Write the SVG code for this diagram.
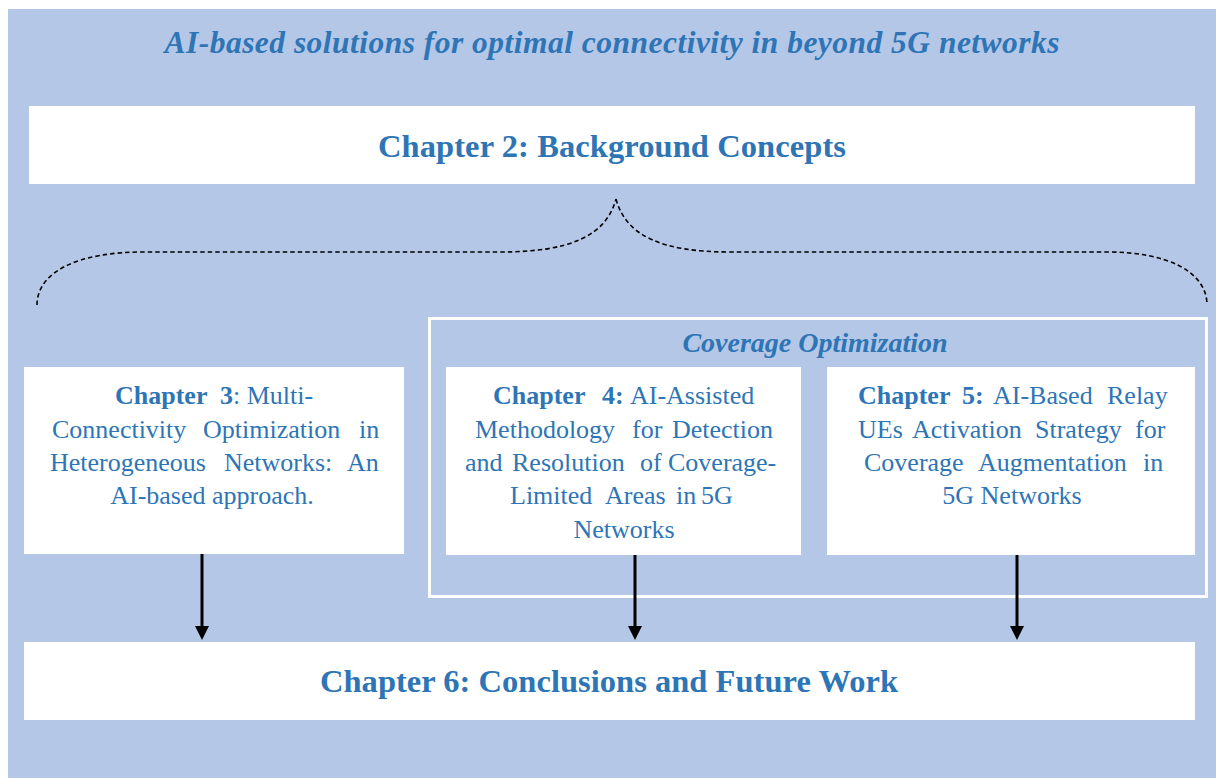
<svg xmlns="http://www.w3.org/2000/svg" width="1216" height="778" viewBox="0 0 1216 778">
  <style>
    .panel { fill: #B4C7E7; }
    .box { fill: #FFFFFF; }
    .frame { fill: none; stroke: #FFFFFF; stroke-width: 3; }
    .txt { font-family: "Liberation Serif", "Times New Roman", serif; fill: #2E75B6; }
    .head { font-size: 32.5px; font-weight: bold; text-anchor: middle; }
    .title { font-size: 31.5px; font-weight: bold; font-style: italic; text-anchor: middle; }
    .group-label { font-size: 28px; font-weight: bold; font-style: italic; text-anchor: middle; }
    .body { font-size: 26px; }
    .mid { text-anchor: middle; }
    .b { font-weight: bold; }
    .brace { fill: none; stroke: #000000; stroke-width: 1.6; stroke-dasharray: 4.5 3; }
    .arrow { stroke: #000000; stroke-width: 3; fill: none; }
    .tip { fill: #000000; }
  </style>

  <!-- page background -->
  <rect class="panel" x="8" y="9" width="1208" height="769"/>

  <!-- title -->
  <text id="title" class="txt title" x="612" y="53" textLength="895" lengthAdjust="spacing">AI-based solutions for  optimal connectivity in beyond 5G networks</text>

  <!-- chapter 2 -->
  <g id="ch2">
    <rect class="box" x="29" y="106" width="1166" height="78"/>
    <text class="txt head" x="612" y="157" textLength="468" lengthAdjust="spacing">Chapter 2: Background Concepts</text>
  </g>

  <!-- brace linking chapter 2 to the chapters below -->
  <g id="brace">
    <path class="brace" d="M37,305 C37,272 78,252 143,252 L500,252 C570,252 606,236 616,199"/>
    <path class="brace" d="M616,199 C626,236 662,252 730,252 L1107,252 C1168,252 1207,272 1207,305"/>
  </g>

  <!-- coverage optimization frame -->
  <g id="coverage">
    <rect class="frame" x="429.5" y="318.5" width="777" height="278"/>
    <text class="txt group-label" x="815" y="352">Coverage Optimization</text>
  </g>

  <!-- chapter 3 -->
  <g id="ch3">
    <rect class="box" x="24" y="367" width="380" height="187"/>
    <text class="txt body" y="404"><tspan class="b" x="115">Chapter</tspan><tspan class="b" x="220">3</tspan><tspan x="233">: Multi-</tspan></text>
    <text class="txt body" y="438"><tspan x="52">Connectivity</tspan><tspan x="203">Optimization</tspan><tspan x="359">in</tspan></text>
    <text class="txt body" y="471"><tspan x="50">Heterogeneous</tspan><tspan x="224">Networks:</tspan><tspan x="347">An</tspan></text>
    <text class="txt body mid" x="212" y="504">AI-based approach.</text>
  </g>

  <!-- chapter 4 -->
  <g id="ch4">
    <rect class="box" x="446" y="367" width="355" height="188"/>
    <text class="txt body" y="404"><tspan class="b" x="493">Chapter</tspan><tspan class="b" x="602">4:</tspan><tspan x="630">AI-Assisted</tspan></text>
    <text class="txt body" y="438"><tspan x="475">Methodology</tspan><tspan x="632">for</tspan><tspan x="672">Detection</tspan></text>
    <text class="txt body" y="471"><tspan x="465">and</tspan><tspan x="512">Resolution</tspan><tspan x="640">of</tspan><tspan x="668">Coverage-</tspan></text>
    <text class="txt body" y="504"><tspan x="510">Limited</tspan><tspan x="605">Areas</tspan><tspan x="676">in</tspan><tspan x="701">5G</tspan></text>
    <text class="txt body mid" x="624" y="538">Networks</text>
  </g>

  <!-- chapter 5 -->
  <g id="ch5">
    <rect class="box" x="827" y="367" width="368" height="188"/>
    <text class="txt body" y="404"><tspan class="b" x="858">Chapter</tspan><tspan class="b" x="962">5:</tspan><tspan x="993">AI-Based</tspan><tspan x="1107">Relay</tspan></text>
    <text class="txt body" y="438"><tspan x="858">UEs</tspan><tspan x="912">Activation</tspan><tspan x="1035">Strategy</tspan><tspan x="1135">for</tspan></text>
    <text class="txt body" y="471"><tspan x="864">Coverage</tspan><tspan x="978">Augmentation</tspan><tspan x="1143">in</tspan></text>
    <text class="txt body mid" x="1012" y="504">5G Networks</text>
  </g>

  <!-- chapter 6 -->
  <g id="ch6">
    <rect class="box" x="24" y="642" width="1171" height="78"/>
    <text class="txt head" x="609" y="692" textLength="578" lengthAdjust="spacing">Chapter 6: Conclusions and Future Work</text>
  </g>

  <!-- connectors -->
  <g id="connectors">
    <path class="arrow" d="M202,554 L202,628"/>
    <polygon class="tip" points="195,626 209,626 202,640"/>
    <path class="arrow" d="M635,555 L635,628"/>
    <polygon class="tip" points="628,626 642,626 635,640"/>
    <path class="arrow" d="M1017,555 L1017,628"/>
    <polygon class="tip" points="1010,626 1024,626 1017,640"/>
  </g>
</svg>
